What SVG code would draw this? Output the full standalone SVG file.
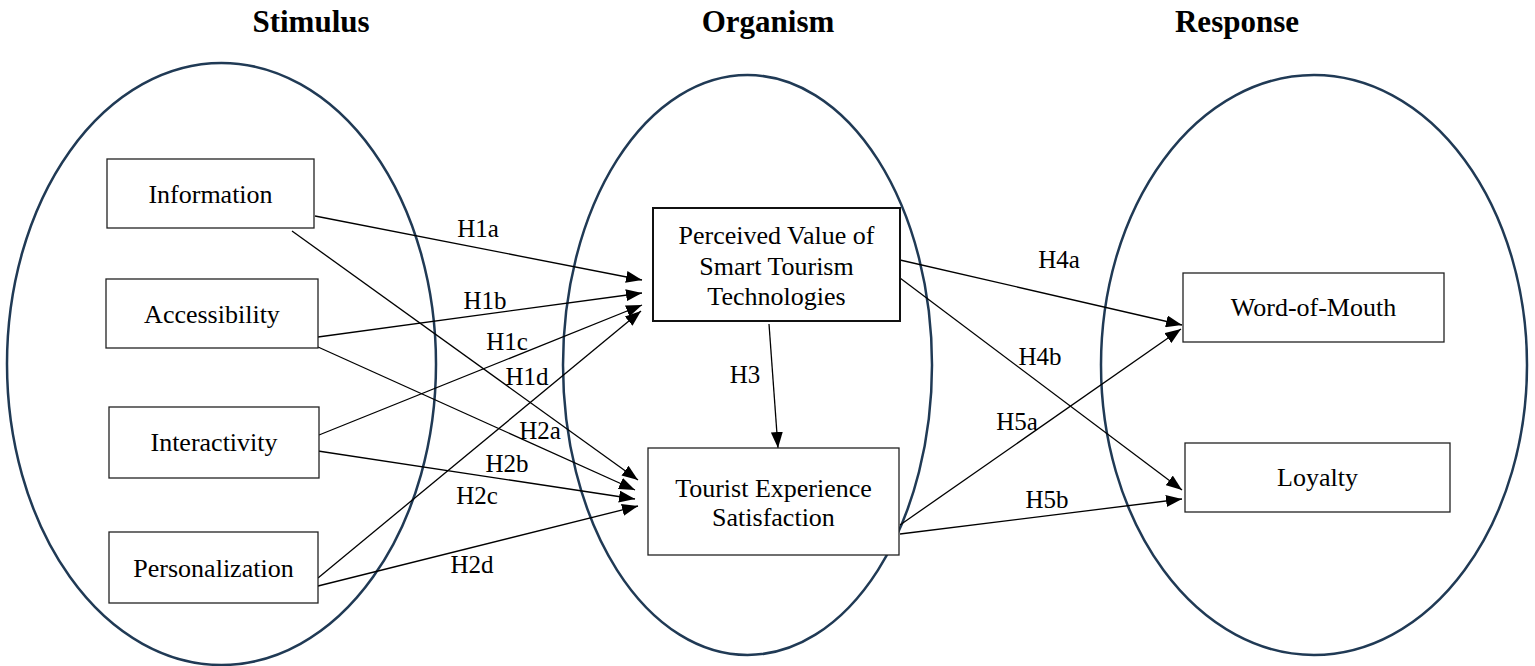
<svg xmlns="http://www.w3.org/2000/svg" width="1535" height="666" viewBox="0 0 1535 666">
<style>
.ell{fill:none;stroke:#203a55;stroke-width:2.5}
.box{fill:#fff;stroke:#222;stroke-width:1.3}
.box2{fill:#fff;stroke:#111;stroke-width:2}
.t{font-family:'Liberation Serif','DejaVu Serif',serif;font-size:26px;fill:#000;text-anchor:middle}
.h{font-family:'Liberation Serif','DejaVu Serif',serif;font-size:31px;font-weight:bold;fill:#000;text-anchor:middle}
.lab{font-family:'Liberation Serif','DejaVu Serif',serif;font-size:25px;fill:#000;text-anchor:middle}
.c{fill:none;stroke:#000;stroke-width:1.3;marker-end:url(#ah)}
</style>
<defs>
<marker id="ah" markerUnits="userSpaceOnUse" markerWidth="16" markerHeight="12" refX="16" refY="6" orient="auto">
<path d="M0,0 L16,6 L0,12 z" fill="#000"/>
</marker>
</defs>
<rect width="1535" height="666" fill="#fff"/>
<g id="headers">
<text class="h" x="311" y="32">Stimulus</text>
<text class="h" x="768" y="32">Organism</text>
<text class="h" x="1237" y="32">Response</text>
</g>
<g id="ellipses">
<ellipse class="ell" cx="221.5" cy="364" rx="214.5" ry="301"/>
<ellipse class="ell" cx="747.5" cy="365" rx="184.5" ry="290"/>
<ellipse class="ell" cx="1314" cy="365" rx="213" ry="290"/>
</g>
<g id="connectors">
<line class="c" x1="315" y1="216" x2="642" y2="280"/>
<line class="c" x1="318" y1="337" x2="642" y2="293"/>
<line class="c" x1="319" y1="435" x2="642" y2="305"/>
<line class="c" x1="318" y1="578" x2="641" y2="311"/>
<line class="c" x1="292" y1="231" x2="638" y2="480"/>
<line class="c" x1="318" y1="347" x2="635" y2="490"/>
<line class="c" x1="318" y1="451" x2="635" y2="499"/>
<line class="c" x1="318" y1="586" x2="638" y2="506"/>
<line class="c" x1="769" y1="324" x2="778" y2="448"/>
<line class="c" x1="900" y1="260" x2="1182" y2="325"/>
<line class="c" x1="900" y1="278" x2="1182" y2="490"/>
<line class="c" x1="900" y1="525" x2="1181" y2="329"/>
<line class="c" x1="900" y1="534" x2="1182" y2="499"/>
</g>
<g id="labels">
<text class="lab" x="478" y="237">H1a</text>
<text class="lab" x="485" y="309">H1b</text>
<text class="lab" x="507" y="350">H1c</text>
<text class="lab" x="527" y="385">H1d</text>
<text class="lab" x="540" y="439">H2a</text>
<text class="lab" x="507" y="472">H2b</text>
<text class="lab" x="477" y="504">H2c</text>
<text class="lab" x="472" y="573">H2d</text>
<text class="lab" x="745" y="383">H3</text>
<text class="lab" x="1059" y="268">H4a</text>
<text class="lab" x="1040" y="365">H4b</text>
<text class="lab" x="1017" y="430">H5a</text>
<text class="lab" x="1047" y="508">H5b</text>
</g>
<g id="information">
<rect class="box" x="107" y="159" width="207" height="69"/>
<text class="t" x="210.5" y="203">Information</text>
</g>
<g id="accessibility">
<rect class="box" x="106" y="279" width="212" height="69"/>
<text class="t" x="212" y="323">Accessibility</text>
</g>
<g id="interactivity">
<rect class="box" x="109" y="407" width="210" height="71"/>
<text class="t" x="214" y="451">Interactivity</text>
</g>
<g id="personalization">
<rect class="box" x="109" y="532" width="209" height="71"/>
<text class="t" x="213.5" y="577">Personalization</text>
</g>
<g id="perceived-value">
<rect class="box2" x="653" y="208" width="247" height="113"/>
<text class="t" x="776.5" y="244">Perceived Value of</text>
<text class="t" x="776.5" y="275">Smart Tourism</text>
<text class="t" x="776.5" y="305">Technologies</text>
</g>
<g id="tourist-experience">
<rect class="box" x="648" y="448" width="251" height="107"/>
<text class="t" x="773.5" y="497">Tourist Experience</text>
<text class="t" x="773.5" y="526">Satisfaction</text>
</g>
<g id="word-of-mouth">
<rect class="box" x="1183" y="273" width="261" height="69"/>
<text class="t" x="1313.5" y="316">Word-of-Mouth</text>
</g>
<g id="loyalty">
<rect class="box" x="1185" y="443" width="265" height="69"/>
<text class="t" x="1317.5" y="486">Loyalty</text>
</g>
</svg>
